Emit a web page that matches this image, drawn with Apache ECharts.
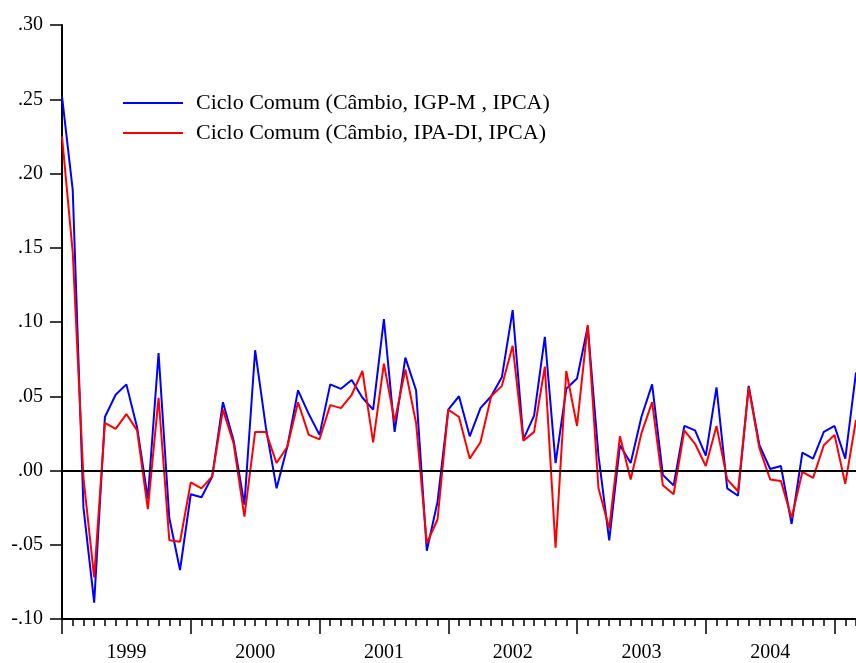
<!DOCTYPE html>
<html>
<head>
<meta charset="utf-8">
<script src="https://cdn.jsdelivr.net/npm/echarts@6/dist/echarts.min.js"></script>
<style>
html,body{margin:0;padding:0;background:#fff;}
#chart{width:856px;height:663px;}
</style>
</head>
<body>
<div id="chart"></div>
<script>
// Monthly categories, Jan 1999 .. Mar 2005 (last one lies just past the right edge)
const years = ['1999','2000','2001','2002','2003','2004','2005'];
const months = [];
years.forEach(y => { for (let m = 1; m <= 12; m++) months.push(y + '-' + (m < 10 ? '0' + m : m)); });
const categories = months.slice(0, 75);

const seriesNames = ['Ciclo Comum (Câmbio, IGP-M , IPCA)', 'Ciclo Comum (Câmbio, IPA-DI, IPCA)'];

const cicloIGPM = [
  0.252, 0.189, -0.025, -0.089, 0.036, 0.051, 0.058, 0.029, -0.019, 0.079, -0.032, -0.067,
  -0.016, -0.018, -0.004, 0.046, 0.020, -0.023, 0.081, 0.029, -0.012, 0.016, 0.054, 0.038,
  0.024, 0.058, 0.055, 0.061, 0.049, 0.041, 0.102, 0.026, 0.076, 0.054, -0.054, -0.021,
  0.041, 0.050, 0.023, 0.042, 0.050, 0.063, 0.108, 0.021, 0.037, 0.090, 0.005, 0.055,
  0.062, 0.097, 0.010, -0.047, 0.017, 0.005, 0.036, 0.058, -0.003, -0.010, 0.030, 0.027,
  0.010, 0.056, -0.012, -0.017, 0.057, 0.017, 0.001, 0.003, -0.036, 0.012, 0.008, 0.026,
  0.030, 0.008, 0.066
];

const cicloIPADI = [
  0.225, 0.147, -0.005, -0.072, 0.032, 0.028, 0.038, 0.027, -0.026, 0.049, -0.047, -0.048,
  -0.008, -0.012, -0.004, 0.041, 0.018, -0.031, 0.026, 0.026, 0.005, 0.016, 0.046, 0.024,
  0.021, 0.044, 0.042, 0.051, 0.067, 0.019, 0.072, 0.033, 0.068, 0.032, -0.049, -0.033,
  0.041, 0.036, 0.008, 0.019, 0.050, 0.057, 0.084, 0.020, 0.026, 0.070, -0.052, 0.067,
  0.030, 0.098, -0.012, -0.039, 0.023, -0.006, 0.025, 0.046, -0.010, -0.016, 0.027, 0.018,
  0.003, 0.030, -0.006, -0.014, 0.056, 0.015, -0.006, -0.007, -0.032, -0.001, -0.005, 0.017,
  0.024, -0.009, 0.034
];

const FONT = '"Liberation Serif", "DejaVu Serif", serif';
const chart = echarts.init(document.getElementById('chart'), null, {renderer: 'canvas'});

chart.setOption({
  animation: false,
  backgroundColor: '#ffffff',
  grid: { left: 62, top: 25, width: 799.2, height: 600, containLabel: false },
  legend: {
    orient: 'vertical',
    left: 123,
    top: 92,
    padding: 0,
    icon: 'rect',
    itemWidth: 60,
    itemHeight: 2,
    itemGap: 8,
    data: seriesNames,
    textStyle: { fontFamily: FONT, fontSize: 22, color: '#000', padding: [0, 0, 0, 8] }
  },
  xAxis: [
    {
      type: 'category',
      data: categories,
      boundaryGap: false,
      axisLine: { onZero: false, lineStyle: { color: '#000', width: 2 } },
      axisTick: { show: true, interval: 0, length: 7, lineStyle: { color: '#000', width: 1.5 } },
      axisLabel: {
        interval: (i) => i % 12 === 6,
        formatter: (v) => v.slice(0, 4),
        fontFamily: FONT, fontSize: 20, color: '#000', margin: 24
      },
      splitLine: { show: false }
    },
    {
      type: 'category',
      data: categories,
      boundaryGap: false,
      position: 'bottom',
      axisLine: { show: false, onZero: false },
      axisTick: { show: true, interval: (i) => i % 12 === 0, length: 15, lineStyle: { color: '#000', width: 1.5 } },
      axisLabel: { show: false },
      splitLine: { show: false }
    }
  ],
  yAxis: {
    type: 'value',
    min: -0.10,
    max: 0.30,
    interval: 0.05,
    axisLine: { show: true, onZero: false, lineStyle: { color: '#000', width: 2 } },
    axisTick: { show: true, length: 12, lineStyle: { color: '#000', width: 1.5 } },
    axisLabel: {
      formatter: (v) => v.toFixed(2).replace('0.', '.'),
      fontFamily: FONT, fontSize: 20, color: '#000', margin: 19,
      padding: [0, 0, 6, 0]
    },
    splitLine: { show: false }
  },
  series: [
    {
      name: seriesNames[0],
      type: 'line',
      data: cicloIGPM,
      symbol: 'none',
      lineStyle: { color: '#0000ff', width: 2 },
      itemStyle: { color: '#0000ff' },
      z: 3,
      markLine: {
        silent: true,
        symbol: ['none', 'none'],
        label: { show: false },
        lineStyle: { color: '#000', width: 2, type: 'solid' },
        data: [{ yAxis: 0 }]
      }
    },
    {
      name: seriesNames[1],
      type: 'line',
      data: cicloIPADI,
      symbol: 'none',
      lineStyle: { color: '#ff0000', width: 2 },
      itemStyle: { color: '#ff0000' },
      z: 4
    }
  ]
});
</script>
</body>
</html>
